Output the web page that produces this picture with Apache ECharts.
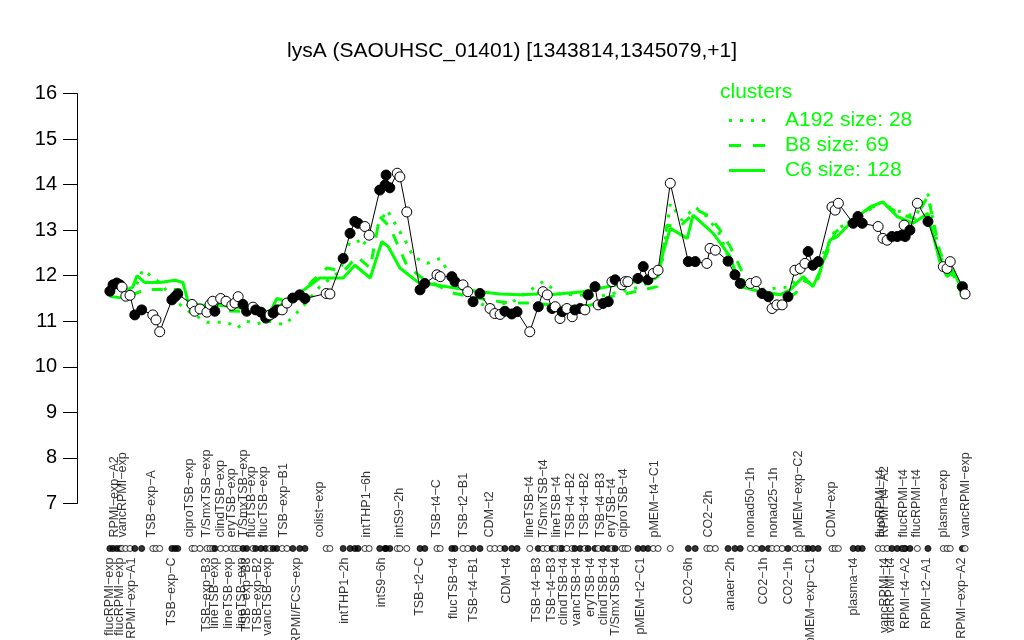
<!DOCTYPE html>
<html><head><meta charset="utf-8">
<script src="https://cdn.jsdelivr.net/npm/echarts@6/dist/echarts.min.js"></script>
<style>html,body{margin:0;padding:0;background:#fff}#c{width:1024px;height:640px}</style>
</head><body><div id="c"></div>
<script>
// sample positions (order index), expression values, filled flag
const sampleX = [0,0.6,1.3,1.9,2.3,3.0,3.8,4.7,6.0,8.1,8.7,9.4,11.7,12.3,12.8,15.5,16.0,17.0,18.3,18.9,19.4,19.8,20.9,21.9,23.0,23.6,24.2,25.1,25.8,27.0,27.5,28.5,29.4,30.2,30.8,31.5,32.5,33.4,34.5,35.8,36.8,40.8,41.5,44.0,45.3,46.2,46.8,48.1,48.9,50.9,51.9,52.1,52.8,54.2,54.7,56.0,58.5,59.4,61.7,62.3,64.5,65.1,66.6,67.5,68.5,69.8,71.7,72.6,73.6,74.5,75.8,76.8,79.2,80.8,81.7,82.5,83.4,84.0,84.9,85.3,86.2,87.2,87.7,88.7,89.6,90.2,91.5,92.1,93.0,94.0,94.7,95.3,96.6,97.2,97.7,99.6,100.6,101.5,102.5,103.4,105.7,109.1,110.4,112.6,113.2,114.2,116.6,117.9,118.9,120.8,121.9,123.0,124.2,124.9,125.8,126.8,127.9,129.2,130.2,131.1,131.7,132.6,133.6,136.2,136.8,137.4,140.2,141.1,141.9,144.9,145.8,146.6,147.5,148.5,149.4,149.8,150.0,150.9,152.3,154.3,157.2,157.9,158.5,160.8,161.3];
const sampleY = [11.66,11.80,11.84,11.80,11.75,11.55,11.57,11.14,11.25,11.14,11.03,10.77,11.47,11.54,11.60,11.37,11.22,11.27,11.20,11.37,11.44,11.22,11.50,11.44,11.35,11.40,11.54,11.37,11.22,11.31,11.25,11.20,11.07,11.14,11.18,11.25,11.25,11.40,11.51,11.58,11.50,11.61,11.60,12.38,12.93,13.19,13.15,13.08,12.89,13.88,13.99,14.21,13.93,14.25,14.17,13.40,11.69,11.83,12.02,11.98,11.98,11.87,11.80,11.65,11.43,11.61,11.28,11.17,11.15,11.22,11.16,11.21,10.77,11.32,11.65,11.58,11.28,11.32,11.06,11.21,11.28,11.10,11.25,11.28,11.25,11.58,11.76,11.36,11.39,11.43,11.87,11.91,11.80,11.87,11.87,11.94,12.20,11.91,12.05,12.12,14.03,12.31,12.31,12.27,12.60,12.56,12.32,12.02,11.83,11.83,11.87,11.61,11.54,11.28,11.36,11.36,11.54,12.12,12.16,12.27,12.53,12.23,12.31,13.51,13.44,13.59,13.15,13.30,13.15,13.08,12.82,12.78,12.86,12.86,12.89,13.11,12.86,13.00,13.59,13.19,12.20,12.16,12.31,11.76,11.60];
const sampleFilled = [1,1,1,1,0,0,0,1,1,0,0,0,1,1,1,0,0,0,0,0,0,1,0,0,0,0,0,1,1,0,1,1,1,0,1,1,0,0,1,1,1,0,0,1,1,1,1,0,0,1,1,1,1,0,0,0,1,1,0,0,1,1,0,0,1,1,0,0,0,1,1,1,0,1,0,0,1,0,0,1,0,0,1,1,0,1,1,0,1,1,0,1,0,0,0,1,1,1,0,0,0,1,1,0,0,0,1,1,1,0,0,1,1,0,0,0,1,0,0,0,1,1,1,0,0,0,1,1,1,0,0,0,1,1,1,0,1,1,0,1,0,0,0,1,0];

// cluster mean profiles
const c6X = [0,1.9,3.4,4.3,5.1,6.6,9.4,12.3,13.8,14.7,17.0,20.8,24.5,28.3,30.2,31.5,33.0,34.5,35.8,39.6,44.0,46.2,49.1,51.3,52.5,54.7,58.1,63.6,69.8,73.6,77.4,80.6,81.7,83.0,89.2,95.7,101.3,103.4,104.3,105.7,108.9,110.0,113.8,117.0,118.9,122.6,126.4,128.3,130.8,132.6,134.0,135.8,137.2,140.2,143.4,145.8,148.5,151.5,154.3,156.6,157.9,159.1,160.9];
const c6Y = [11.75,11.8,11.7,11.75,12.0,11.85,11.85,11.9,11.85,11.45,11.35,11.35,11.3,11.25,11.2,11.5,11.45,11.55,11.62,11.95,11.95,12.23,11.95,12.75,12.64,12.17,11.86,11.76,11.65,11.6,11.58,11.6,11.72,11.58,11.65,11.8,11.91,11.98,12.49,13.04,12.82,13.33,12.93,12.42,11.76,11.65,11.58,11.69,11.98,11.76,12.12,12.78,12.86,13.22,13.51,13.62,13.3,13.15,13.37,12.27,11.98,12.12,11.62];
const b8X = [0,2.8,4.7,6.6,13.2,14.7,17.0,24.5,28.3,31.1,34.0,35.8,38.3,41.0,44.0,46.6,49.1,50.9,52.8,56.0,58.5,64.7,71.1,75.5,79.8,86.2,90.6,94.3,97.5,103.2,105.1,107.5,110.8,113.2,115.1,117.0,119.8,123.6,127.4,129.2,131.1,133.0,134.9,136.8,139.6,143.4,146.2,149.1,151.9,154.3,156.6,158.5,160.9];
const b8Y = [11.55,11.5,11.6,11.7,11.7,11.35,11.25,11.22,11.25,11.3,11.45,11.55,11.9,12.17,12.09,12.42,12.17,13.3,13.07,12.23,11.98,11.62,11.47,11.4,11.4,11.32,11.35,11.54,11.61,11.76,13.11,13.08,13.44,13.3,13.0,12.64,11.95,11.65,11.55,11.6,11.9,11.75,12.4,12.95,13.2,13.5,13.55,13.35,13.25,13.75,12.5,12.1,11.55];
const a192X = [0,1.9,3.8,6.2,9.4,12.3,15.1,18.3,20.2,22.1,24.0,25.8,27.7,30.2,33.0,36.2,39.6,43.4,45.8,47.5,50.4,52.3,53.4,56.0,57.2,59.8,62.3,64.7,67.4,71.1,76.0,81.7,84.9,92.5,100.0,103.8,105.7,107.9,110.4,112.6,115.1,117.9,122.6,128.3,131.1,134.0,136.8,140.6,145.3,149.1,151.9,154.3,156.6,158.5,160.9];
const a192Y = [11.6,11.7,11.45,12.13,11.85,11.45,11.2,10.98,10.98,10.98,10.85,11.0,10.95,11.0,10.92,11.3,11.76,12.1,12.94,12.64,13.07,13.44,13.22,12.71,12.42,12.27,12.38,11.91,11.54,11.32,11.43,11.87,11.6,11.55,11.75,12.0,13.59,13.22,13.51,13.3,12.9,12.0,11.7,11.75,12.2,12.35,13.0,13.25,13.6,13.4,13.3,13.8,12.4,12.2,11.5];

// condition labels
const topLabels = ['RPMI\u2212exp\u2212A2','vancRPMI\u2212exp','TSB\u2212exp\u2212A','ciproTSB\u2212exp','T/SmxTSB\u2212exp','clindTSB\u2212exp','eryTSB\u2212exp','T/SmxTSB\u2212exp','flucTSB\u2212exp','flucTSB\u2212exp','TSB\u2212exp\u2212B1','colist\u2212exp','intTHP1\u22126h','intS9\u22122h','TSB\u2212t4\u2212C','TSB\u2212t2\u2212B1','CDM\u2212t2','lineTSB\u2212t4','T/SmxTSB\u2212t4','lineTSB\u2212t4','TSB\u2212t4\u2212B2','TSB\u2212t4\u2212B2','TSB\u2212t4\u2212B3','eryTSB\u2212t4','ciproTSB\u2212t4','pMEM\u2212t4\u2212C1','CO2\u22122h','nonad50\u22121h','nonad25\u22121h','pMEM\u2212exp\u2212C2','CDM\u2212exp','flucRPMI\u2212t4','RPMI\u2212t4\u2212A2','flucRPMI\u2212t4','flucRPMI\u2212t4','plasma\u2212exp','vancRPMI\u2212exp'];
const topLabelX = [0.9,2.4,7.9,15.1,18.2,20.8,23.0,25.2,26.7,28.9,32.7,39.6,48.4,54.7,61.6,66.7,71.7,79.2,81.8,84.3,86.8,89.6,92.5,94.7,96.8,102.8,112.9,120.8,125.2,129.9,136.2,145.3,146.2,149.7,152.2,157.2,161.3];
const bottomLabels = ['flucRPMI\u2212exp','flucRPMI\u2212exp','RPMI\u2212exp\u2212A1','TSB\u2212exp\u2212C','TSB\u2212exp\u2212B3','lineTSB\u2212exp','lineTSB\u2212exp','lineTSB\u2212exp','TSB\u2212exp\u2212B3','TSB\u2212exp\u2212B2','vancTSB\u2212exp','RPMI/FCS\u2212exp','intTHP1\u22122h','intS9\u22126h','TSB\u2212t2\u2212C','flucTSB\u2212t4','TSB\u2212t4\u2212B1','CDM\u2212t4','TSB\u2212t4\u2212B3','TSB\u2212t4\u2212B3','clindTSB\u2212t4','vancTSB\u2212t4','eryTSB\u2212t4','clindTSB\u2212t4','T/SmxTSB\u2212t4','pMEM\u2212t2\u2212C1','CO2\u22126h','anaer\u22122h','CO2\u22121h','CO2\u22121h','pMEM\u2212exp\u2212C1','plasma\u2212t4','vancRPMI\u2212t4','vancRPMI\u2212t4','RPMI\u2212t4\u2212A2','RPMI\u2212t2\u2212A1','RPMI\u2212exp\u2212A2'];
const bottomLabelX = [0,1.9,4.1,11.6,18.2,19.8,22.3,24.8,25.8,27.9,29.8,35.2,44.2,51.3,58.5,64.8,68.5,74.8,80.5,83.3,85.5,88.1,90.6,93.1,95.3,100.0,109.1,117.0,123.3,128.0,132.1,140.2,146.2,147.2,150.0,154.1,160.7];
const yTicks = [7,8,9,10,11,12,13,14,15,16];

const GREEN = '#00FF00';
const FONT = 'Liberation Sans, Arial, Helvetica, sans-serif';
const X_MIN = -6.2, X_MAX = 167.7;

const pair = (xs, ys) => xs.map((x, i) => [x, ys[i]]);
const styled = (xs, ys) => xs.map((x, i) => ({
  value: [x, ys[i]],
  itemStyle: sampleFilled[i] ? {color:'#000', borderColor:'#000', borderWidth:1} : {color:'#fff', borderColor:'#000', borderWidth:1}
}));

const chart = echarts.init(document.getElementById('c'), null, {renderer:'canvas'});
chart.setOption({
  animation: false,
  backgroundColor: '#fff',
  textStyle: {fontFamily: FONT},
  title: {
    text: 'lysA (SAOUHSC_01401) [1343814,1345079,+1]',
    left: 'center', top: 36,
    textStyle: {fontSize: 21, fontWeight: 'normal', color: '#000', fontFamily: FONT}
  },
  graphic: [{
    type: 'text', left: 720, top: 82,
    style: {text: 'clusters', fill: GREEN, fontSize: 21, fontFamily: FONT}
  }],
  legend: {
    orient: 'vertical', left: 724, top: 105,
    itemWidth: 36, itemHeight: 3, itemGap: 4,
    textStyle: {color: GREEN, fontSize: 21, fontFamily: FONT, padding: [0,0,0,15]},
    data: [
      {name:'A192 size: 28', icon:'path://M0,0h3v3h-3z M11,0h3v3h-3z M22,0h3v3h-3z M33,0h3v3h-3z'},
      {name:'B8 size: 69', icon:'path://M0,0h12v3h-12z M24,0h12v3h-12z'},
      {name:'C6 size: 128', icon:'path://M0,0h36v3h-36z'}
    ]
  },
  grid: [
    {left: 77, right: 25, top: 93.5, height: 410},
    {left: 77, right: 25, top: 528.5, height: 40}
  ],
  xAxis: [
    {type:'value', gridIndex:0, min:X_MIN, max:X_MAX, show:false},
    {type:'value', gridIndex:1, min:X_MIN, max:X_MAX, show:false}
  ],
  yAxis: [
    {type:'value', gridIndex:0, min:yTicks[0], max:yTicks[yTicks.length-1], interval:1,
     splitLine:{show:false},
     axisLine:{show:true, onZero:false, lineStyle:{color:'#000', width:1}},
     axisTick:{show:true, inside:false, length:14, lineStyle:{color:'#000'}},
     axisLabel:{show:true, margin:20, color:'#000', fontSize:20, fontFamily:FONT}
    },
    {type:'value', gridIndex:1, min:-1, max:1, show:false}
  ],
  series: [
    {name:'A192 size: 28', type:'line', xAxisIndex:0, yAxisIndex:0, data: pair(a192X, a192Y),
     symbol:'none', color: GREEN, lineStyle:{color:GREEN, width:3, type:[3,8]}, z:2},
    {name:'B8 size: 69', type:'line', xAxisIndex:0, yAxisIndex:0, data: pair(b8X, b8Y),
     symbol:'none', color: GREEN, lineStyle:{color:GREEN, width:3, type:[11,11]}, z:2},
    {name:'C6 size: 128', type:'line', xAxisIndex:0, yAxisIndex:0, data: pair(c6X, c6Y),
     symbol:'none', color: GREEN, lineStyle:{color:GREEN, width:3, type:'solid'}, z:2},
    {name:'lysA', type:'line', xAxisIndex:0, yAxisIndex:0, data: styled(sampleX, sampleY),
     symbol:'circle', symbolSize:10, showAllSymbol:true,
     lineStyle:{color:'#000', width:1}, z:5},
    {name:'samples', type:'scatter', xAxisIndex:1, yAxisIndex:1,
     data: styled(sampleX, sampleX.map(() => 0)), symbol:'circle', symbolSize:6, z:5},
    {name:'topLabels', type:'scatter', xAxisIndex:1, yAxisIndex:1, symbolSize:0,
     data: topLabels.map((n, i) => ({name:n, value:[topLabelX[i], 0]})),
     label:{show:true, formatter:'{b}', position:[0,-11], rotate:90, align:'left', verticalAlign:'middle',
            color:'#000', fontSize:12.5, fontFamily:FONT}},
    {name:'bottomLabels', type:'scatter', xAxisIndex:1, yAxisIndex:1, symbolSize:0,
     data: bottomLabels.map((n, i) => ({name:n, value:[bottomLabelX[i], 0]})),
     label:{show:true, formatter:'{b}', position:[0,9], rotate:90, align:'right', verticalAlign:'middle',
            color:'#000', fontSize:12.5, fontFamily:FONT}}
  ]
});
</script></body></html>
